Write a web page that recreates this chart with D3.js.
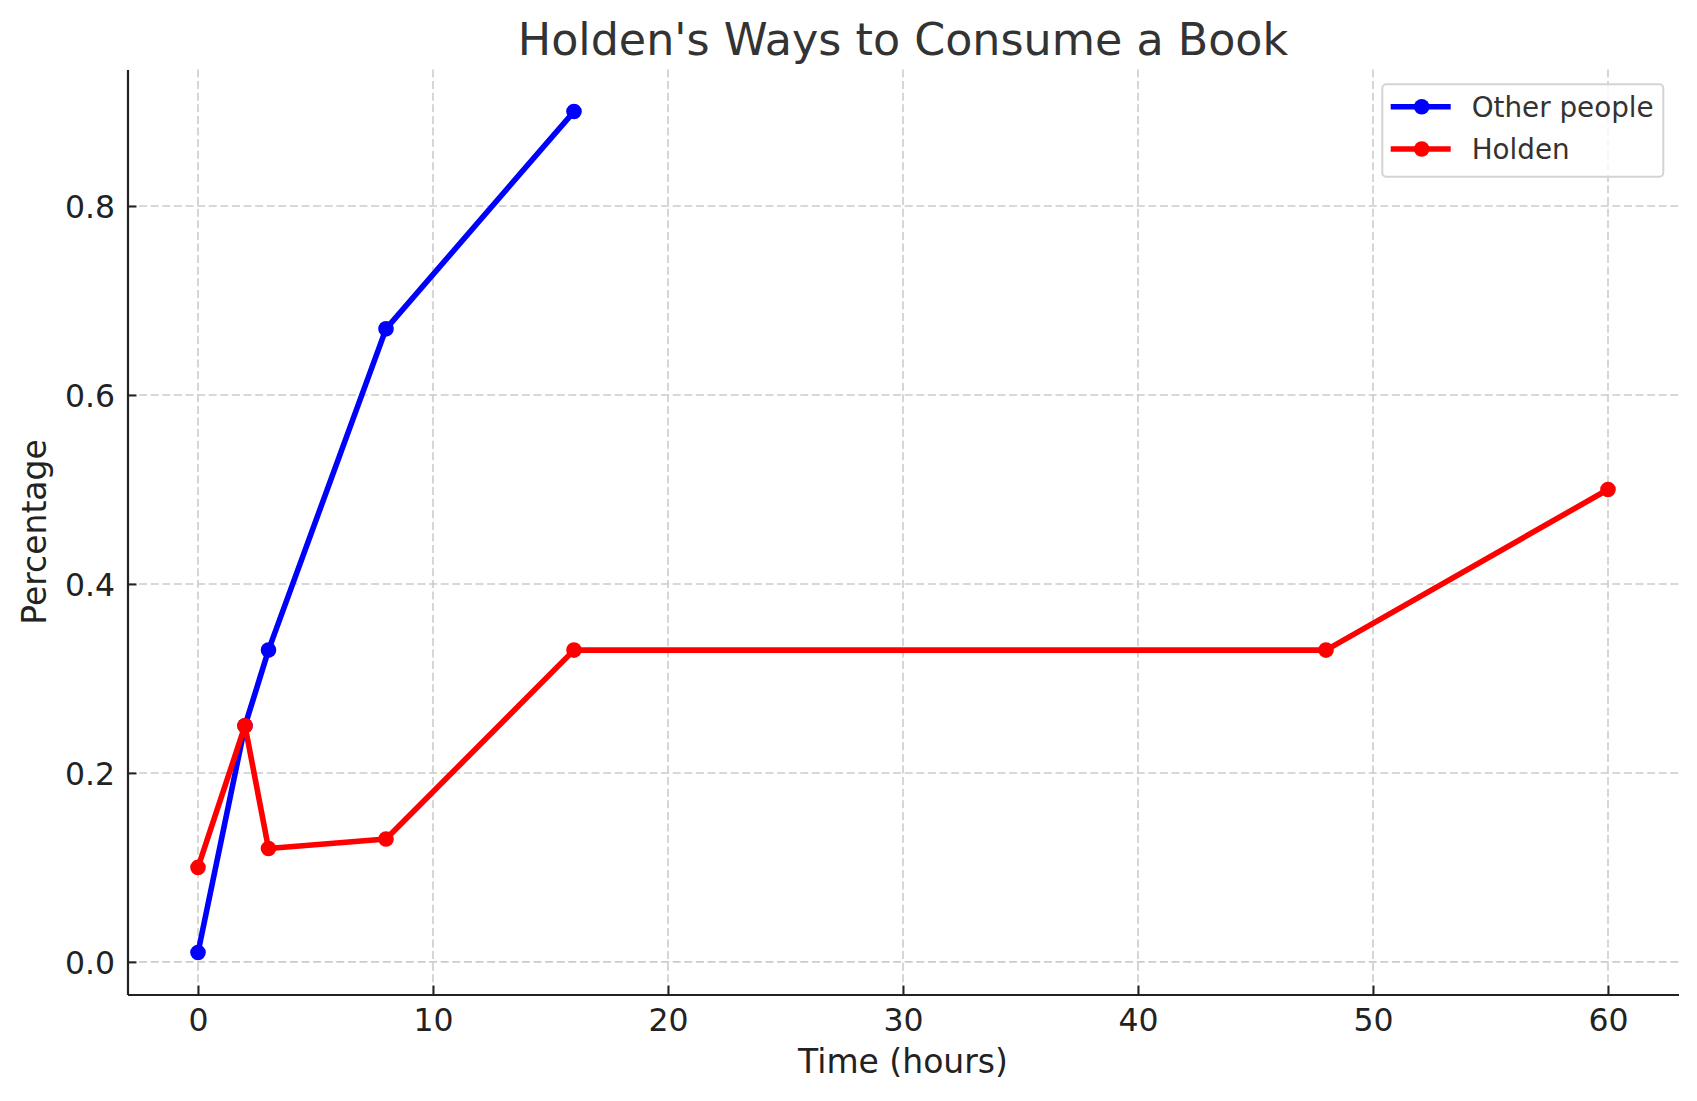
<!DOCTYPE html>
<html>
<head>
<meta charset="utf-8">
<script src="https://cdn.jsdelivr.net/npm/d3@7"></script>
<style>
  html, body { margin: 0; padding: 0; background: #fff; }
  svg { display: block; font-family: "DejaVu Sans", sans-serif; }
</style>
</head>
<body>
<svg id="chart" width="1697" height="1101"></svg>
<script>
// ---- data ----
const otherHours = [0, 2, 3, 8, 16];
const otherValues = [0.01, 0.25, 0.33, 0.67, 0.90];
const holdenHours = [0, 2, 3, 8, 16, 48, 60];
const holdenValues = [0.10, 0.25, 0.12, 0.13, 0.33, 0.33, 0.50];
const seriesNames = ["Other people", "Holden"];
const seriesColors = ["#0000ff", "#ff0000"];
const xTicks = [0, 10, 20, 30, 40, 50, 60];
const yTicks = [0.0, 0.2, 0.4, 0.6, 0.8];
const titleText = "Holden's Ways to Consume a Book";
const xLabel = "Time (hours)";
const yLabel = "Percentage";

// ---- layout ----
const pLeft = 127.5, pRight = 1678.5, pTop = 69.5, pBottom = 994.5;
const svg = d3.select("#chart");

const x = d3.scaleLinear().domain([-3, 63]).range([pLeft, pRight]);
const y = d3.scaleLinear().domain([-0.0345, 0.9445]).range([pBottom, pTop]);

// grid
const grid = svg.append("g");
grid.selectAll("line.vx").data(xTicks).join("line")
  .attr("x1", d => x(d)).attr("x2", d => x(d))
  .attr("y1", pTop).attr("y2", pBottom)
  .attr("stroke", "#cccccc").attr("stroke-width", 1.6)
  .attr("stroke-dasharray", "8,3.6");
grid.selectAll("line.hy").data(yTicks).join("line")
  .attr("x1", pLeft).attr("x2", pRight)
  .attr("y1", d => y(d)).attr("y2", d => y(d))
  .attr("stroke", "#cccccc").attr("stroke-width", 1.6)
  .attr("stroke-dasharray", "8,3.6");

// axes
const xAxis = d3.axisBottom(x).tickValues(xTicks).tickFormat(d3.format("d"))
  .tickSizeInner(-9).tickSizeOuter(0).tickPadding(22);
const yAxis = d3.axisLeft(y).tickValues(yTicks).tickFormat(d3.format(".1f"))
  .tickSizeInner(-9).tickSizeOuter(0).tickPadding(22);

const gx = svg.append("g").attr("transform", `translate(0,${pBottom})`).call(xAxis);
const gy = svg.append("g").attr("transform", `translate(${pLeft},0)`).call(yAxis);
[gx, gy].forEach(g => {
  g.select(".domain").attr("stroke", "#222").attr("stroke-width", 2.2);
  g.selectAll(".tick line").attr("stroke", "#222").attr("stroke-width", 2);
  g.selectAll(".tick text").attr("fill", "#222")
    .style("font-family", "'DejaVu Sans', sans-serif").style("font-size", "31.5px");
});
gx.selectAll(".tick text").attr("dy", null).attr("y", 36.5);
gy.selectAll(".tick text").attr("x", -12.5).attr("dy", "0.36em");

// series
const series = [
  { name: seriesNames[0], color: seriesColors[0], pts: otherHours.map((h, i) => [h, otherValues[i]]) },
  { name: seriesNames[1], color: seriesColors[1], pts: holdenHours.map((h, i) => [h, holdenValues[i]]) }
];
const line = d3.line().x(d => x(d[0])).y(d => y(d[1]));
series.forEach(s => {
  const g = svg.append("g");
  g.append("path").attr("d", line(s.pts)).attr("fill", "none")
    .attr("stroke", s.color).attr("stroke-width", 5.6)
    .attr("stroke-linejoin", "round").attr("stroke-linecap", "butt");
  g.selectAll("circle").data(s.pts).join("circle")
    .attr("cx", d => x(d[0])).attr("cy", d => y(d[1])).attr("r", 7.8)
    .attr("fill", s.color);
});

// title & labels
svg.append("text").attr("x", (pLeft + pRight) / 2).attr("y", 54.5)
  .attr("text-anchor", "middle").attr("fill", "#333")
  .style("font-size", "44.4px").text(titleText);
svg.append("text").attr("x", (pLeft + pRight) / 2).attr("y", 1073.3)
  .attr("text-anchor", "middle").attr("fill", "#222")
  .style("font-size", "33px").text(xLabel);
svg.append("text").attr("transform", `translate(46,${(pTop + pBottom) / 2}) rotate(-90)`)
  .attr("text-anchor", "middle").attr("fill", "#222")
  .style("font-size", "33px").text(yLabel);

// legend
const lg = svg.append("g");
lg.append("rect").attr("x", 1382.3).attr("y", 84.3).attr("width", 281).attr("height", 92.4)
  .attr("rx", 4).attr("fill", "#fff").attr("fill-opacity", 0.8)
  .attr("stroke", "#d4d4d4").attr("stroke-width", 2);
const rowsY = [106.7, 149];
series.forEach((s, i) => {
  lg.append("line").attr("x1", 1390.7).attr("x2", 1450.7)
    .attr("y1", rowsY[i]).attr("y2", rowsY[i])
    .attr("stroke", s.color).attr("stroke-width", 5.6);
  lg.append("circle").attr("cx", 1421.7).attr("cy", rowsY[i]).attr("r", 7.8).attr("fill", s.color);
  lg.append("text").attr("x", 1471.7).attr("y", rowsY[i]).attr("dy", "0.36em")
    .attr("fill", "#333").style("font-size", "27.8px").text(s.name);
});
</script>
</body>
</html>
